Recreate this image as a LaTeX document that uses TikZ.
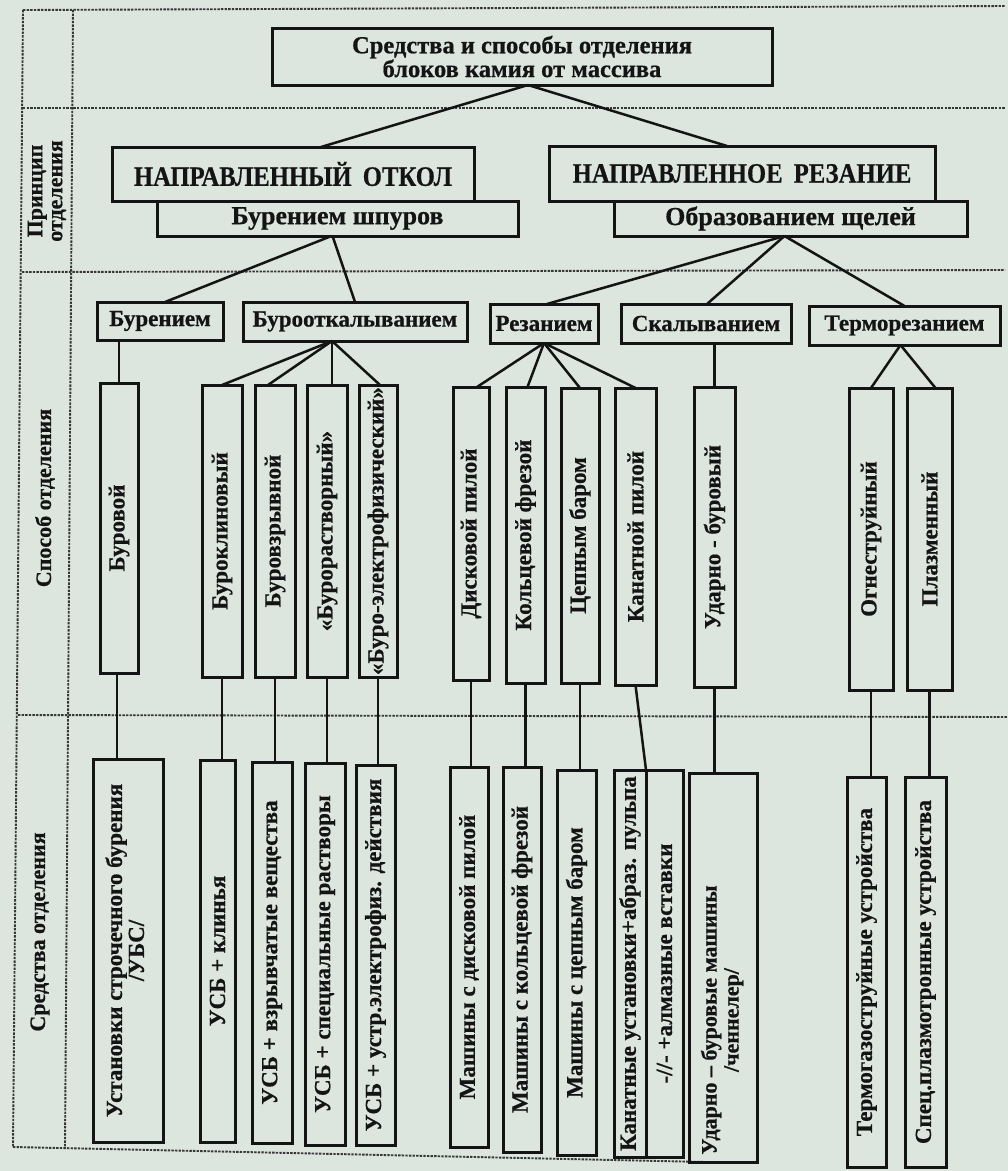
\documentclass[tikz,border=0pt]{standalone}
\usepackage{fontspec}
\setmainfont{Liberation Serif}[BoldFeatures={FakeBold=0.6}]
\usetikzlibrary{calc}
\definecolor{paper}{RGB}{220,229,222}
\definecolor{ink}{RGB}{20,20,20}
\newcommand{\myvert}[1]{\rotatebox{90}{#1}}
\newcommand{\mytwo}[2]{\rotatebox{90}{\begin{tabular}{@{}c@{}}#1\\#2\end{tabular}}}
\begin{document}
\begin{tikzpicture}[x=1pt,y=-1pt,
  box/.style={draw=ink,line width=3pt,inner sep=0pt,outer sep=0pt,text=ink},
  conn/.style={draw=ink,line width=2.5pt},
  frame/.style={draw=ink!85,line width=1.9pt,dash pattern=on 2.4pt off 1.2pt},
  fhdr/.style={font=\fontsize{26}{28}\selectfont\bfseries},
  fmid/.style={font=\fontsize{26}{28}\selectfont\bfseries},
  frow/.style={font=\fontsize{23}{24}\selectfont\bfseries},
  fvert/.style={font=\fontsize{23}{22}\selectfont\bfseries},
  flab/.style={font=\fontsize{22}{20}\selectfont\bfseries,text=ink,inner sep=0pt}]
\useasboundingbox (0,0) rectangle (1008,1171);
\fill[paper] (0,0) rectangle (1008,1171);
% frame
\draw[frame] (23,10) -- (1005,6);
\draw[frame] (23,10) -- (13,1147);
\draw[frame] (73,10) -- (65,1147);
\draw[frame] (23,108) -- (1005,108);
\draw[frame] (22,272) -- (1005,270);
\draw[frame] (18,715) -- (1008,717);
\draw[frame] (13,1147) -- (752,1163);
% row labels
\node[flab] (lab1) at (48,191) {\mytwo{Принцип}{отделения}};
\node[flab] (lab2) at (45,498) {\myvert{Способ отделения}};
\node[flab] (lab3) at (40,932) {\myvert{Средства отделения}};
% top
\node[box,minimum width=500pt,minimum height=57pt,align=center,font=\fontsize{24.5}{22}\selectfont\bfseries] (top) at (522,56.5) {Средства и способы отделения\\блоков камия от массива};
\node[box,fhdr,minimum width=362pt,minimum height=54pt] (otkol) at (293,174) {\scalebox{0.95}[1.08]{НАПРАВЛЕННЫЙ\hspace{0.45em}ОТКОЛ}};
\node[box,fmid,minimum width=361pt,minimum height=35pt] (shpur) at (337.5,218.5) {Бурением шпуров};
\node[box,fhdr,minimum width=386pt,minimum height=55pt] (rezh) at (742,173.5) {\scalebox{0.95}[1.08]{НАПРАВЛЕННОЕ\hspace{0.45em}РЕЗАНИЕ}};
\node[box,fmid,minimum width=353pt,minimum height=35pt] (shchel) at (790.5,218.5) {Образованием щелей};
% row 3
\node[box,frow,minimum width=126pt,minimum height=38pt] (burenie) at (160,321) {Бурением};
\node[box,frow,minimum width=224pt,minimum height=39pt] (burootk) at (355,321.5) {Бурооткалыванием};
\node[box,frow,minimum width=108pt,minimum height=39pt] (rezan) at (544,323.5) {Резанием};
\node[box,frow,minimum width=170pt,minimum height=39pt] (skal) at (706,323.5) {Скалыванием};
\node[box,frow,minimum width=191pt,minimum height=39pt] (termo) at (904.5,325.5) {Терморезанием};
% row 4
\node[box,fvert,minimum width=38pt,minimum height=290pt] (burovoy) at (119,528) {\myvert{Буровой}};
\node[box,fvert,minimum width=40pt,minimum height=292pt] (klin) at (222,531) {\myvert{Буроклиновый}};
\node[box,fvert,minimum width=40pt,minimum height=292pt] (vzryv) at (275,531) {\myvert{Буровзрывной}};
\node[box,fvert,minimum width=40pt,minimum height=292pt] (rastv) at (327,531) {\myvert{«Бурорастворный»}};
\node[box,fvert,minimum width=38pt,minimum height=292pt] (elfiz) at (378,531) {\myvert{«Буро-электрофизический»}};
\node[box,fvert,minimum width=36pt,minimum height=293pt] (disk) at (471,533.5) {\myvert{Дисковой пилой}};
\node[box,fvert,minimum width=39pt,minimum height=296pt] (kolc) at (525.5,535) {\myvert{Кольцевой фрезой}};
\node[box,fvert,minimum width=38pt,minimum height=295pt] (cep) at (580,535.5) {\myvert{Цепным баром}};
\node[box,fvert,minimum width=41pt,minimum height=297pt] (kanat) at (635.5,536.5) {\myvert{Канатной пилой}};
\node[box,fvert,minimum width=41pt,minimum height=300pt] (udar) at (714.5,537) {\myvert{Ударно - буровый}};
\node[box,fvert,minimum width=44pt,minimum height=302pt] (ogn) at (871,539) {\myvert{Огнеструйный}};
\node[box,fvert,minimum width=45pt,minimum height=302pt] (plaz) at (929.5,539) {\myvert{Плазменный}};
% row 5
\node[box,fvert,minimum width=70pt,minimum height=383pt] (ubs) at (128,950.5) {\mytwo{Установки строчечного бурения}{/УБС/}};
\node[box,fvert,minimum width=35pt,minimum height=382pt] (usb1) at (217.5,951) {\myvert{УСБ + клинья}};
\node[box,fvert,minimum width=40pt,minimum height=381pt] (usb2) at (272,952.5) {\myvert{УСБ + взрывчатые вещества}};
\node[box,fvert,minimum width=40pt,minimum height=382pt] (usb3) at (325,954) {\myvert{УСБ + специальные растворы}};
\node[box,fvert,minimum width=39pt,minimum height=380pt] (usb4) at (375.5,955) {\myvert{УСБ + устр.электрофиз. действия}};
\node[box,fvert,minimum width=38pt,minimum height=380pt] (mdisk) at (469,957) {\myvert{Машины с дисковой пилой}};
\node[box,fvert,minimum width=38pt,minimum height=385pt] (mkolc) at (522,959.5) {\myvert{Машины с кольцевой фрезой}};
\node[box,fvert,minimum width=39pt,minimum height=385pt] (mcep) at (576.5,962.5) {\myvert{Машины с цепным баром}};
\node[box,fvert,minimum width=32pt,minimum height=387pt] (kan1) at (630,963.5) {\myvert{Канатные установки+абраз. пульпа}};
\node[box,fvert,minimum width=37pt,minimum height=387pt] (kan2) at (664.5,963.5) {\myvert{-//- +алмазные вставки}};
\node[box,minimum width=68pt,minimum height=389pt] (mudar) at (723,967.5) {};
\node[text=ink,inner sep=0pt,font=\fontsize{22}{22}\selectfont\bfseries] (mudartxt) at (723,1020) {\mytwo{Ударно – буровые машины}{/ченнелер/}};
\node[box,fvert,minimum width=39pt,minimum height=390pt] (mtermo) at (866.5,972) {\myvert{Термогазоструйные устройства}};
\node[box,fvert,minimum width=41pt,minimum height=390pt] (mspec) at (925.5,972) {\myvert{Спец.плазмотронные устройства}};
% connectors level 1-2
\draw[conn] ([xshift=6pt]top.south) -- ([xshift=28pt]otkol.north);
\draw[conn] ([xshift=6pt]top.south) -- ([xshift=-15pt]rezh.north);
% level 2-3
\draw[conn] ([xshift=-6pt]shpur.south) -- ([xshift=5pt]burenie.north);
\draw[conn] ([xshift=-5pt]shpur.south) -- (burootk.north);
\draw[conn] ([xshift=-6pt]shchel.south) -- ([xshift=3pt]rezan.north);
\draw[conn] ([xshift=-6pt]shchel.south) -- ([xshift=1pt]skal.north);
\draw[conn] ([xshift=-6pt]shchel.south) -- (termo.north);
% level 3-4
\draw[conn] (burovoy.north |- burenie.south) -- (burovoy.north);
\draw[conn] ([xshift=-23pt]burootk.south) -- (klin.north);
\draw[conn] ([xshift=-23pt]burootk.south) -- ([xshift=-7pt]vzryv.north);
\draw[conn] ([xshift=-23pt]burootk.south) -- ([xshift=5pt]rastv.north);
\draw[conn] ([xshift=-23pt]burootk.south) -- ([xshift=2pt]elfiz.north);
\draw[conn] (rezan.south) -- ([xshift=6pt]disk.north);
\draw[conn] (rezan.south) -- ([xshift=2pt]kolc.north);
\draw[conn] (rezan.south) -- (cep.north);
\draw[conn] (rezan.south) -- (kanat.north);
\draw[conn] (udar.north |- skal.south) -- (udar.north);
\draw[conn] ([xshift=-4pt]termo.south) -- (ogn.north);
\draw[conn] ([xshift=-4pt]termo.south) -- ([xshift=6pt]plaz.north);
% level 4-5
\draw[conn] ([xshift=-2pt]burovoy.south) -- ([xshift=-2pt]burovoy.south |- ubs.north);
\draw[conn] (klin.south) -- (klin.south |- usb1.north);
\draw[conn] (vzryv.south) -- (vzryv.south |- usb2.north);
\draw[conn] (rastv.south) -- (rastv.south |- usb3.north);
\draw[conn] (elfiz.south) -- (elfiz.south |- usb4.north);
\draw[conn] (disk.south) -- (disk.south |- mdisk.north);
\draw[conn] (kolc.south) -- (kolc.south |- mkolc.north);
\draw[conn] (cep.south) -- (cep.south |- mcep.north);
\draw[conn] (kanat.south) -- (kan1.north east);
\draw[conn] (udar.south) -- (udar.south |- mudar.north);
\draw[conn] (ogn.south) -- (ogn.south |- mtermo.north);
\draw[conn] (plaz.south) -- (plaz.south |- mspec.north);
\end{tikzpicture}
\end{document}
